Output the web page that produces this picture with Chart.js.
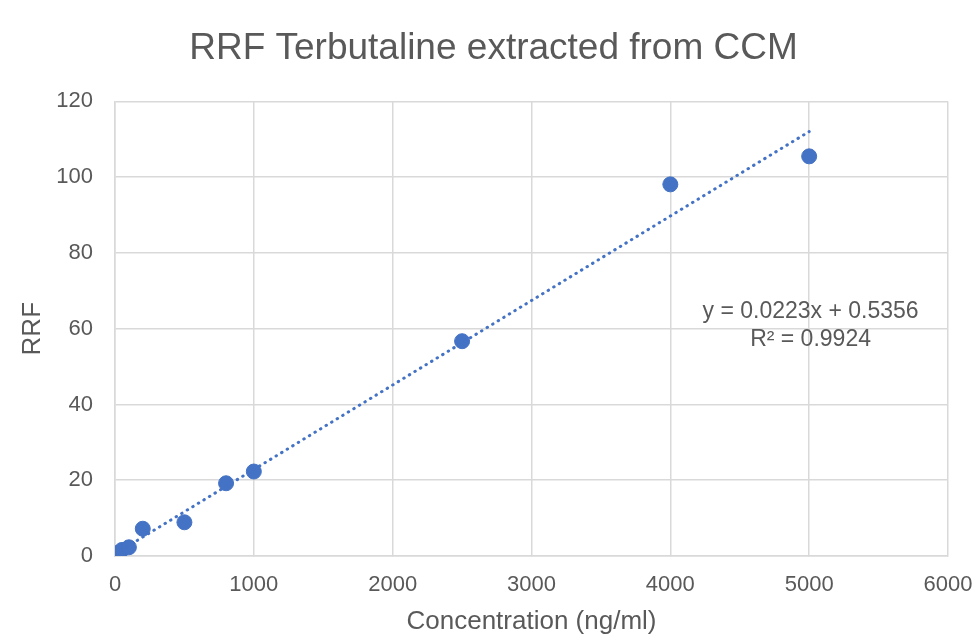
<!DOCTYPE html>
<html>
<head>
<meta charset="utf-8">
<script src="https://cdn.jsdelivr.net/npm/chart.js@4/dist/chart.umd.min.js"></script>
<style>
  html, body { margin: 0; padding: 0; background: #fff; }
  #wrap { width: 974px; height: 637px; }
</style>
</head>
<body>
<div id="wrap"><canvas id="chartRrf" width="974" height="637"></canvas></div>
<script>
// valores
const concentracion = [1, 5, 10, 20, 50, 100, 200, 500, 800, 1000, 2500, 4000, 5000];
const rrf = [0.1, 0.3, 0.5, 0.8, 1.6, 2.3, 7.2, 8.9, 19.2, 22.3, 56.7, 98.1, 105.5];

// linea de tendencia (ecuacion del grafico)
const pendiente = 0.0223;
const intercepto = 0.5356;
const tendenciaX = [0, 5000];
const ecuacion = ["y = 0.0223x + 0.5356", "R² = 0.9924"];

const gris = "#595959";
const azul = "#4472C4";
const fuente = "'Liberation Sans', Arial, sans-serif";

const puntos = concentracion.map((x, i) => ({ x: x, y: rrf[i] }));
const tendencia = tendenciaX.map((x) => ({ x: x, y: pendiente * x + intercepto }));

const textoEcuacion = {
  id: "textoEcuacion",
  afterDatasetsDraw(chart) {
    const { ctx, scales } = chart;
    const cx = scales.x.getPixelForValue(5010);
    const cy = scales.y.getPixelForValue(64.4);
    ctx.save();
    ctx.fillStyle = gris;
    ctx.font = "23px " + fuente;
    ctx.textAlign = "center";
    ctx.textBaseline = "middle";
    ctx.fillText(ecuacion[0], cx, cy);
    ctx.fillText(ecuacion[1], cx, cy + 28);
    ctx.restore();
  },
};

const myChart = new Chart(document.getElementById("chartRrf"), {
  type: "scatter",
  data: {
    datasets: [
      {
        label: "Tendencia",
        type: "line",
        data: tendencia,
        borderColor: azul,
        borderWidth: 3,
        borderDash: [0.5, 6],
        borderCapStyle: "round",
        pointRadius: 0,
        fill: false,
      },
      {
        label: "RRF",
        data: puntos,
        backgroundColor: azul,
        borderColor: azul,
        pointRadius: 7.5,
        pointHoverRadius: 7.5,
      },
    ],
  },
  options: {
    responsive: false,
    animation: false,
    layout: { padding: { left: 13, right: 0, top: 0, bottom: 0 } },
    scales: {
      x: {
        type: "linear",
        min: 0,
        max: 6000,
        ticks: {
          stepSize: 1000,
          color: gris,
          font: { size: 22, family: fuente },
          padding: 16,
          maxRotation: 0,
          callback: (v) => String(v),
        },
        grid: { color: "#d9d9d9", lineWidth: 1.5, tickLength: 0 },
        border: { color: "#d9d9d9", width: 1.5 },
        title: {
          display: true,
          text: "Concentration (ng/ml)",
          color: gris,
          font: { size: 26, family: fuente },
          padding: { top: 0, bottom: 0 },
        },
        afterFit: (scale) => {
          scale.height = 81;
          scale.paddingRight = 26;
          scale.paddingLeft = 0;
        },
      },
      y: {
        min: 0,
        max: 120,
        ticks: {
          stepSize: 20,
          color: gris,
          font: { size: 22, family: fuente },
          padding: 22,
          callback: (v) => String(v),
        },
        grid: { color: "#d9d9d9", lineWidth: 1.5, tickLength: 0 },
        border: { color: "#d9d9d9", width: 1.5 },
        title: {
          display: true,
          text: "RRF",
          color: gris,
          font: { size: 26, family: fuente },
          padding: { top: 4, bottom: 0 },
        },
        afterFit: (scale) => {
          scale.width = 102;
        },
      },
    },
    plugins: {
      legend: { display: false },
      tooltip: { enabled: false },
      title: {
        display: true,
        text: "RRF Terbutaline extracted from CCM",
        color: gris,
        font: { size: 37, weight: "normal", family: fuente },
        padding: { top: 27, bottom: 30 },
      },
    },
  },
  plugins: [textoEcuacion],
});
</script>
</body>
</html>
